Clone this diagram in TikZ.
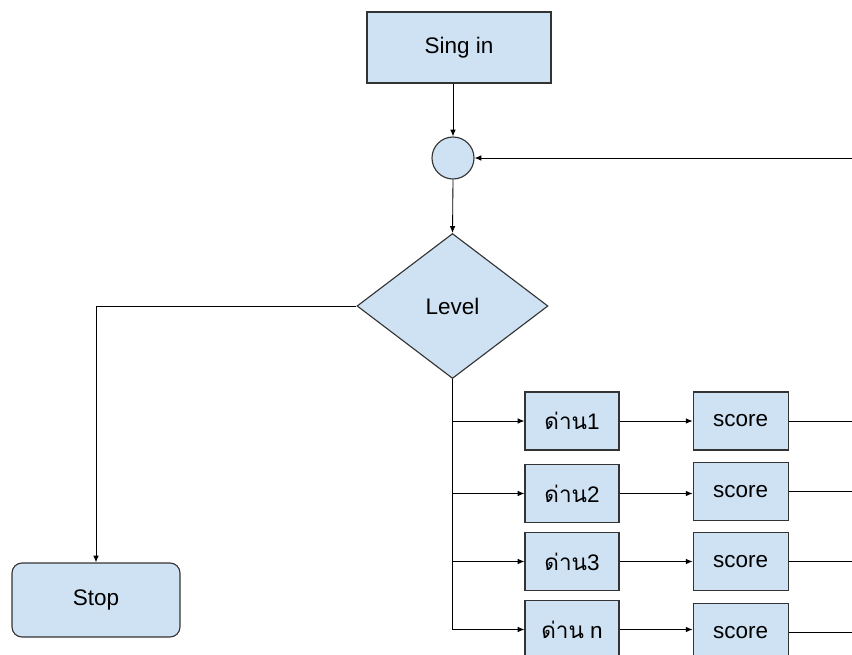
\documentclass[tikz,border=0pt]{standalone}
\usepackage{fontspec}
\setmainfont{Liberation Sans}
\newfontfamily\thai[Script=Thai]{Loma}
\usepackage{xcolor}
\usetikzlibrary{arrows.meta, positioning, shapes.geometric}
\definecolor{boxfill}{HTML}{CFE2F3}
\definecolor{boxline}{HTML}{333333}

\begin{document}
\begin{tikzpicture}[
    font=\fontsize{16}{19}\selectfont,
    box/.style={rectangle, draw=boxline, fill=boxfill, line width=0.8pt, inner sep=0pt, text centered},
    stage/.style={box, minimum width=2.35cm, minimum height=1.45cm},
    scorebox/.style={box, minimum width=2.375cm, minimum height=1.45cm},
    arrow/.style={-{Latex[length=1.7mm, width=1.4mm]}, line width=0.6pt},
    wire/.style={line width=0.6pt}
]
\useasboundingbox (0,0) rectangle (21.3,-16.375);

% Sign in and join point
\node[box, minimum width=4.6cm, minimum height=1.775cm] (signin) at (11.475,-1.1875) {Sing in};
\node[box, circle, minimum size=1.05cm] (join) at (11.325,-3.95) {};

% Level decision
\node[box, diamond, minimum width=4.775cm, minimum height=3.625cm] (level) at (11.3125,-7.65) {Level};

% Stop
\node[box, rounded corners=0.25cm, minimum width=4.2cm, minimum height=1.85cm] (stop) at (2.4,-15.0) {Stop};

% Stages
\node[stage] (stage1) at (14.3,-10.525) {{\thai ด่าน}1};
\node[stage] (stage2) at (14.3,-12.3375) {{\thai ด่าน}2};
\node[stage] (stage3) at (14.3,-14.0375) {{\thai ด่าน}3};
\node[stage] (stagen) at (14.3,-15.7375) {{\thai ด่าน} n};

% Scores
\node[scorebox, right=1.825cm of stage1] (score1) {score};
\node[scorebox, right=1.825cm of stage2, yshift=0.05cm] (score2) {score};
\node[scorebox, right=1.825cm of stage3] (score3) {score};
\node[scorebox, right=1.825cm of stagen, yshift=-0.075cm] (scoren) {score};

% Right edge of the picture
\coordinate (edge) at (21.3,0);
\coordinate (trunkend) at (level.south |- stagen.west);

% Arrows
\draw[arrow] (signin.south -| join) -- (join.north);
\draw[arrow] (join.south) -- (level.north);
\draw[arrow] (join.east -| edge) -- (join.east);
\draw[arrow] (level.west) -| (stop.north);

% Trunk to the stages
\draw[wire] (level.south) -- (trunkend);
\draw[arrow] (level.south |- stage1.west) -- (stage1.west);
\draw[arrow] (level.south |- stage2.west) -- (stage2.west);
\draw[arrow] (level.south |- stage3.west) -- (stage3.west);
\draw[arrow] (trunkend) -- (stagen.west);

% Stages to scores
\draw[arrow] (stage1.east) -- (stage1.east -| score1.west);
\draw[arrow] (stage2.east) -- (stage2.east -| score2.west);
\draw[arrow] (stage3.east) -- (stage3.east -| score3.west);
\draw[arrow] (stagen.east) -- (stagen.east -| scoren.west);

% Scores out to the right
\draw[wire] (score1.east) -- (score1.east -| edge);
\draw[wire] (score2.east) -- (score2.east -| edge);
\draw[wire] (score3.east) -- (score3.east -| edge);
\draw[wire] (scoren.east) -- (scoren.east -| edge);

\end{tikzpicture}
\end{document}
